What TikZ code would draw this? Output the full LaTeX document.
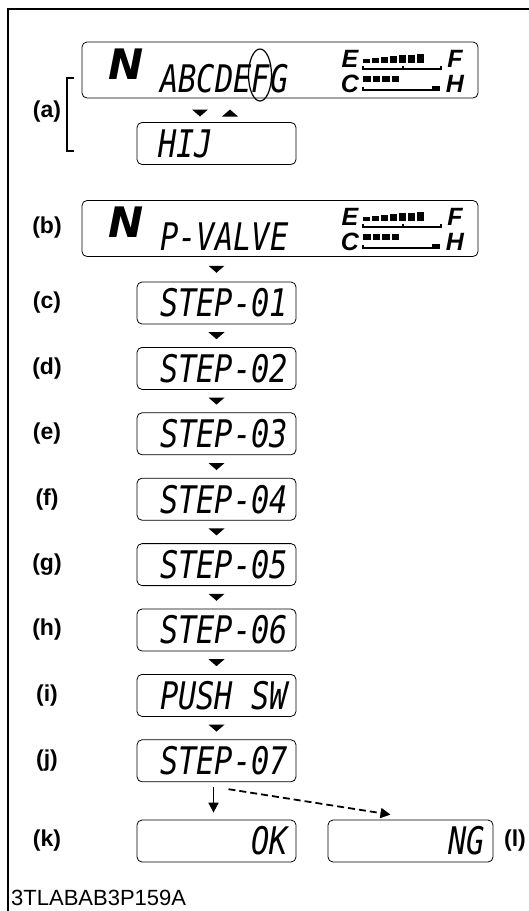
\documentclass[tikz,border=0pt]{standalone}
\usepackage{fontspec}
\setmainfont{Liberation Sans}
\newfontfamily\lcdfont{DejaVu Sans Mono}[FakeStretch=0.8]
\newfontfamily\lcdbig{DejaVu Sans}
\usetikzlibrary{positioning,calc,arrows.meta}
\newcommand\gaugepair[1]{%
  \begin{scope}[shift={(0,#1)}]
    \node[gaugelet] (gE) at (350,59) {E};
    \node[gaugelet] (gC) at (350,84) {C};
    \node[gaugelet] (gF) at (455,59) {F};
    \node[gaugelet] (gH) at (455,84) {H};
    \foreach \i in {0,...,6}
      \fill (363+9*\i,63) rectangle ++(7,{-(4+0.9*\i)});
    \draw[line width=1.4pt] (363,66) -- (363,69) -- (441,69) -- (441,66) (403,69) -- (403,66);
    \foreach \i in {0,...,3}
      \fill (363+9.5*\i,76) rectangle ++(7.5,6);
    \draw[line width=1.4pt] (363,87) -- (363,90) -- (436,90);
    \fill (432,85.5) rectangle (440,90.7);
  \end{scope}}
\newcommand\downtri[1]{\fill[shift={#1}] (-8,-3.5) -- (8,-3.5) -- (0,3.5) -- cycle;}
\newcommand\uptri[1]{\fill[shift={#1}] (-8,3.5) -- (8,3.5) -- (0,-3.5) -- cycle;}
\begin{document}
\begin{tikzpicture}[x=1pt,y=-1pt,
  lcdbox/.style={draw,rounded corners=5pt,line width=0.8pt,inner sep=0pt},
  smallbox/.style={lcdbox,minimum width=159pt,minimum height=42pt},
  widebox/.style={lcdbox,minimum width=396pt,minimum height=56pt},
  seg/.style={font=\lcdfont\itshape\fontsize{38}{38}\selectfont,inner sep=0pt},
  bigN/.style={font=\lcdbig\bfseries\itshape\fontsize{42}{42}\selectfont,inner sep=0pt},
  gaugelet/.style={font=\bfseries\itshape\fontsize{25}{25}\selectfont,inner sep=0pt},
  tag/.style={font=\bfseries\fontsize{23}{23}\selectfont,inner sep=0pt},
  arr/.style={line width=1.8pt,-{Triangle[length=10pt,width=10pt]}}]
\useasboundingbox (0,0) rectangle (529,911);
\draw[line width=2pt] (8,911) -- (8,9) -- (529,9);

% (a) selector display
\node[widebox] (lcd-a) at (280,70) {};
\node[bigN,anchor=west] (nA) at (108,64) {N};
\node[seg,anchor=west] (txt-a) at (160,79) {ABCDEFG};
\draw[line width=1.2pt] (260,75) ellipse [x radius=11.5pt,y radius=26pt];
\gaugepair{0}
\node[smallbox] (lcd-hij) at (216.5,143.5) {};
\node[seg,anchor=west] (txt-hij) at (158,143.5) {HIJ};
\downtri{(200,113)}
\uptri{(230,113)}
\draw[line width=1.2pt] (74,78) -- (67,78) -- (67,151) -- (74,151);
\node[tag] (tag-a) at (47,112) {(a)};

% (b) valve display
\node[widebox] (lcd-b) at (280,228.5) {};
\node[bigN,anchor=west] (nB) at (108,222) {N};
\node[seg,anchor=west] (txt-b) at (160,237) {P-VALVE};
\gaugepair{158}
\node[tag] (tag-b) at (47,228) {(b)};

% steps
\foreach \tg/\txt [count=\k from 0] in {c/STEP-01,d/STEP-02,e/STEP-03,f/STEP-04,g/STEP-05,h/STEP-06,i/PUSH SW,j/STEP-07}{
  \node[smallbox] (lcd-\tg) at (216.5,{303+65.4*\k}) {};
  \node[seg,anchor=east] (txt-\tg) at ([xshift=-8pt]lcd-\tg.east) {\txt};
  \node[tag] (tag-\tg) at (47,{303+65.4*\k}) {(\tg)};
}
\foreach \a/\b in {b/c,c/d,d/e,e/f,f/g,g/h,h/i,i/j}{
  \coordinate (m) at ($(lcd-\a.south)!0.5!(lcd-\b.north)$);
  \downtri{(lcd-\b.north |- m)}
}

% results
\node[smallbox] (lcd-k) at (216.5,841) {};
\node[seg,anchor=east] (txt-k) at ([xshift=-8pt]lcd-k.east) {OK};
\node[tag] (tag-k) at (47,841) {(k)};
\node[smallbox,minimum width=165pt] (lcd-l) at (410.5,841) {};
\node[seg,anchor=east] (txt-l) at ([xshift=-8pt]lcd-l.east) {NG};
\node[tag] (tag-l) at (515,841) {(l)};
\draw[arr] ([xshift=-3pt,yshift=-5pt]lcd-j.south) -- ([xshift=-3pt,yshift=7pt]lcd-k.north);
\draw[arr,dash pattern=on 7pt off 4pt] ([xshift=12pt,yshift=-7pt]lcd-j.south) -- ([xshift=-20pt,yshift=5pt]lcd-l.north);

\node[anchor=west,font=\fontsize{22}{22}\selectfont,inner sep=0pt] (code) at (11,898) {3TLABAB3P159A};
\end{tikzpicture}
\end{document}
